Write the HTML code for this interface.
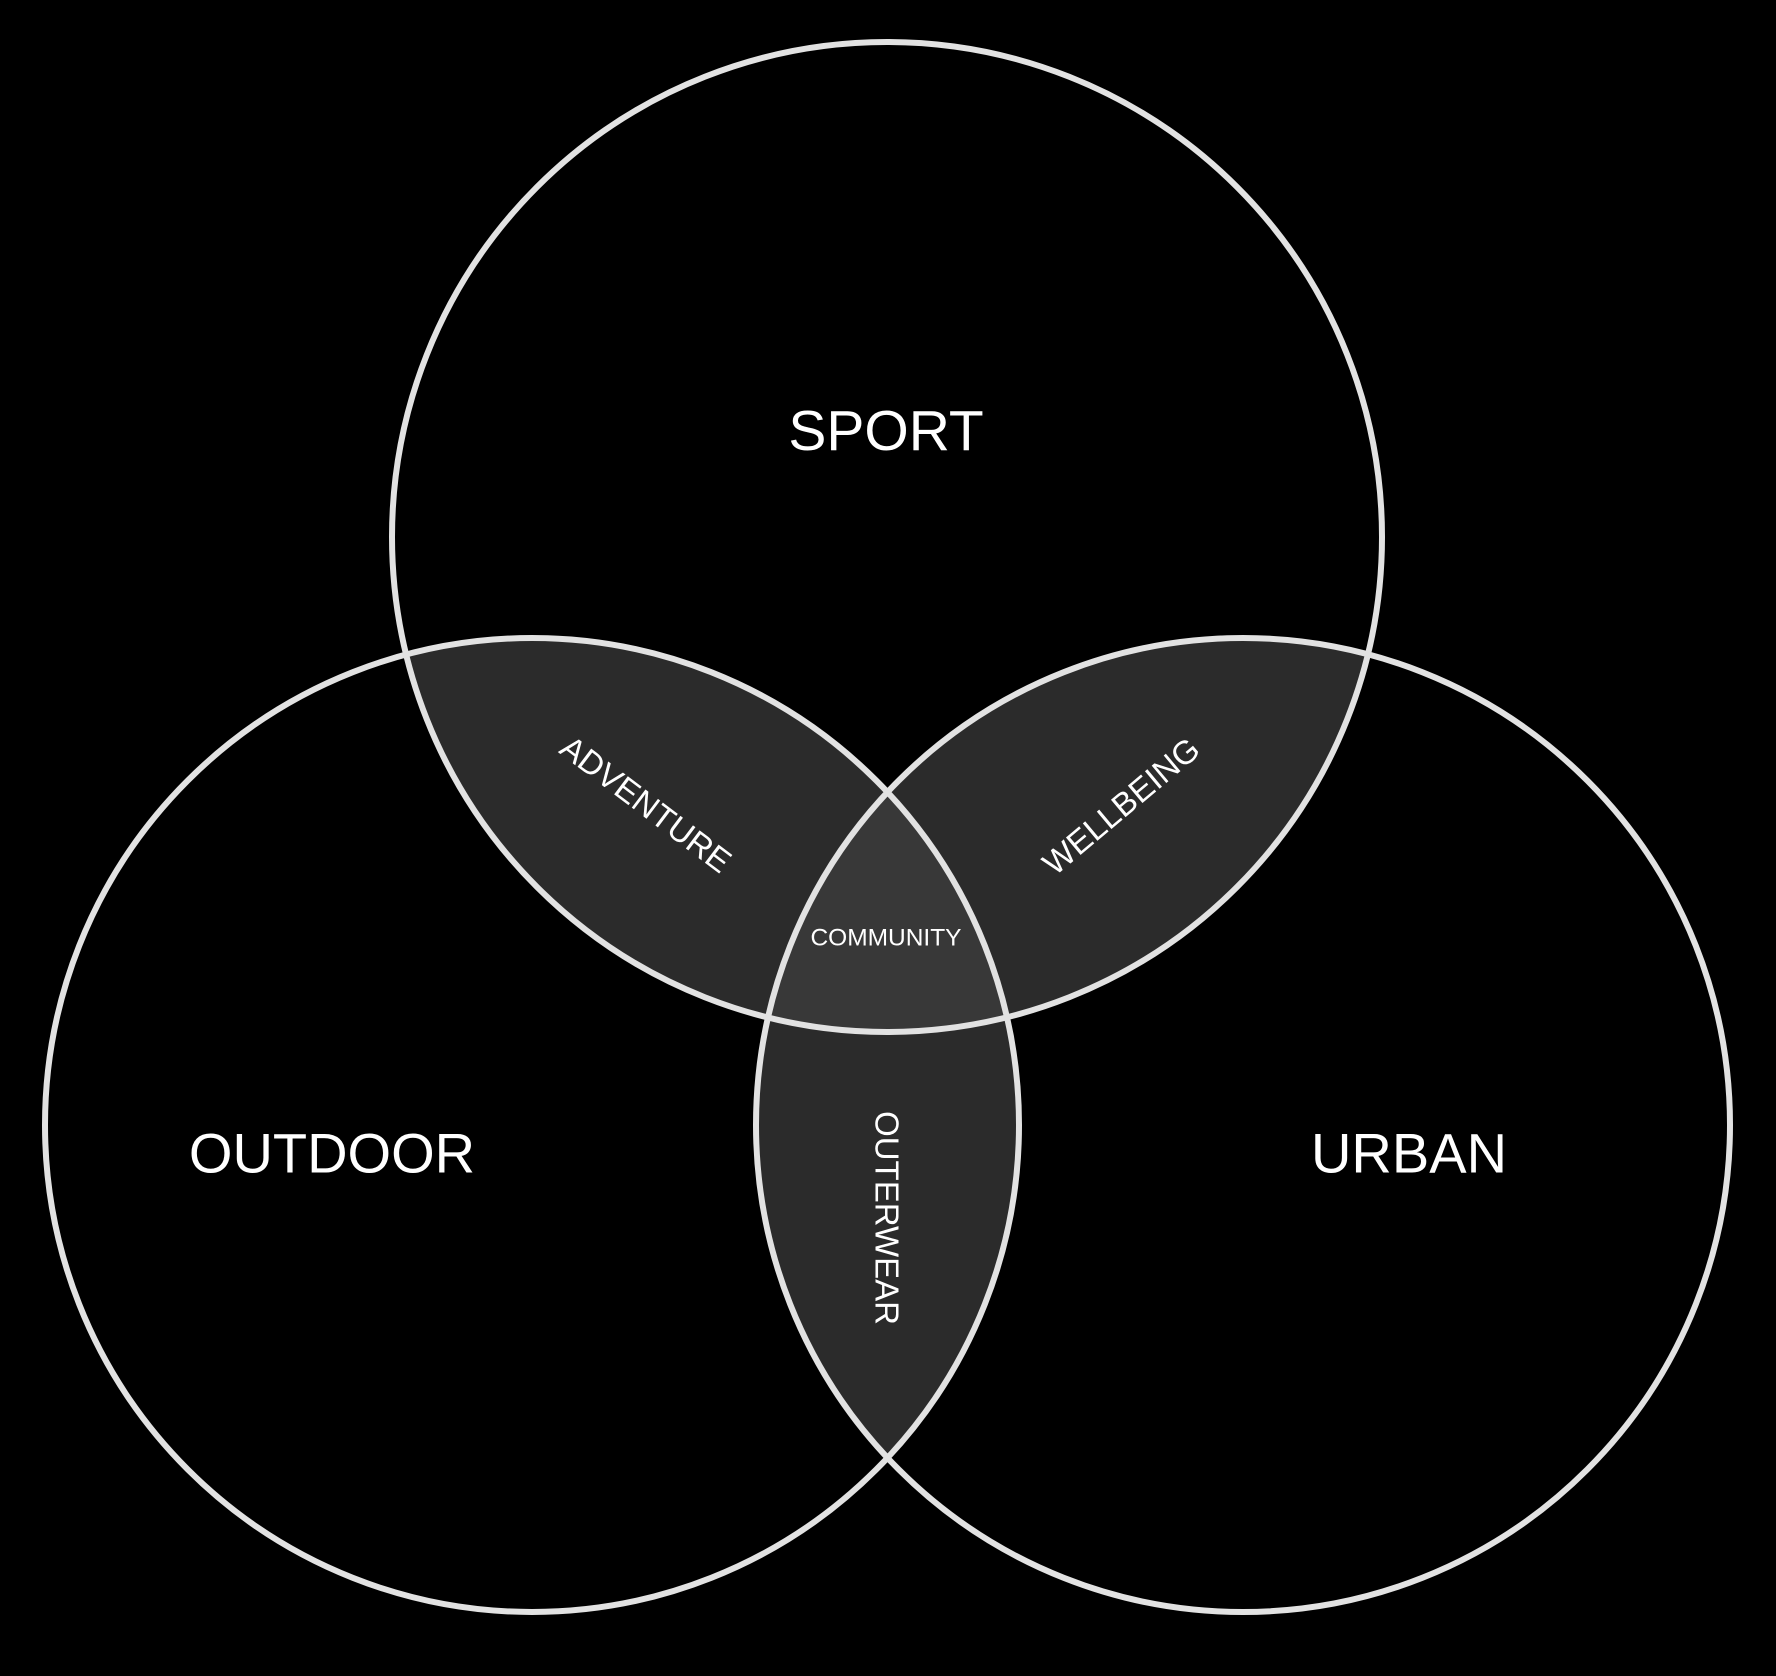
<!DOCTYPE html>
<html><head><meta charset="utf-8"><style>
html,body{margin:0;padding:0;background:#000;}
svg{display:block;}
text{font-family:"Liberation Sans",Arial,sans-serif;fill:#fff;text-anchor:middle;dominant-baseline:central;}
</style></head><body>
<svg width="1776" height="1676" viewBox="0 0 1776 1676" xmlns="http://www.w3.org/2000/svg">
<defs>
<clipPath id="cs"><circle cx="887" cy="537" r="495"/></clipPath>
<clipPath id="co"><circle cx="532" cy="1125" r="487"/></clipPath>
<clipPath id="cu"><circle cx="1243" cy="1125" r="487"/></clipPath>
</defs>
<rect width="1776" height="1676" fill="#000"/>
<g clip-path="url(#cs)"><circle cx="532" cy="1125" r="487" fill="#2b2b2b"/><circle cx="1243" cy="1125" r="487" fill="#2b2b2b"/></g>
<g clip-path="url(#co)"><circle cx="1243" cy="1125" r="487" fill="#2b2b2b"/></g>
<g clip-path="url(#cs)"><g clip-path="url(#co)"><circle cx="1243" cy="1125" r="487" fill="#383838"/></g></g>
<g fill="none" stroke="#e2e2e2" stroke-width="6">
<circle cx="887" cy="537" r="495"/>
<circle cx="532" cy="1125" r="487"/>
<circle cx="1243" cy="1125" r="487"/>
</g>
<text x="886" y="431" font-size="57">SPORT</text>
<text x="332" y="1153" font-size="56">OUTDOOR</text>
<text x="1409" y="1153" font-size="56">URBAN</text>
<text x="646" y="804" font-size="33" transform="rotate(37 646 804)">ADVENTURE</text>
<text x="1121" y="806" font-size="33" transform="rotate(-40 1121 806)">WELLBEING</text>
<text x="886" y="938" font-size="24.5">COMMUNITY</text>
<text x="887" y="1218" font-size="33" transform="rotate(90 887 1218)">OUTERWEAR</text>
</svg>
</body></html>
